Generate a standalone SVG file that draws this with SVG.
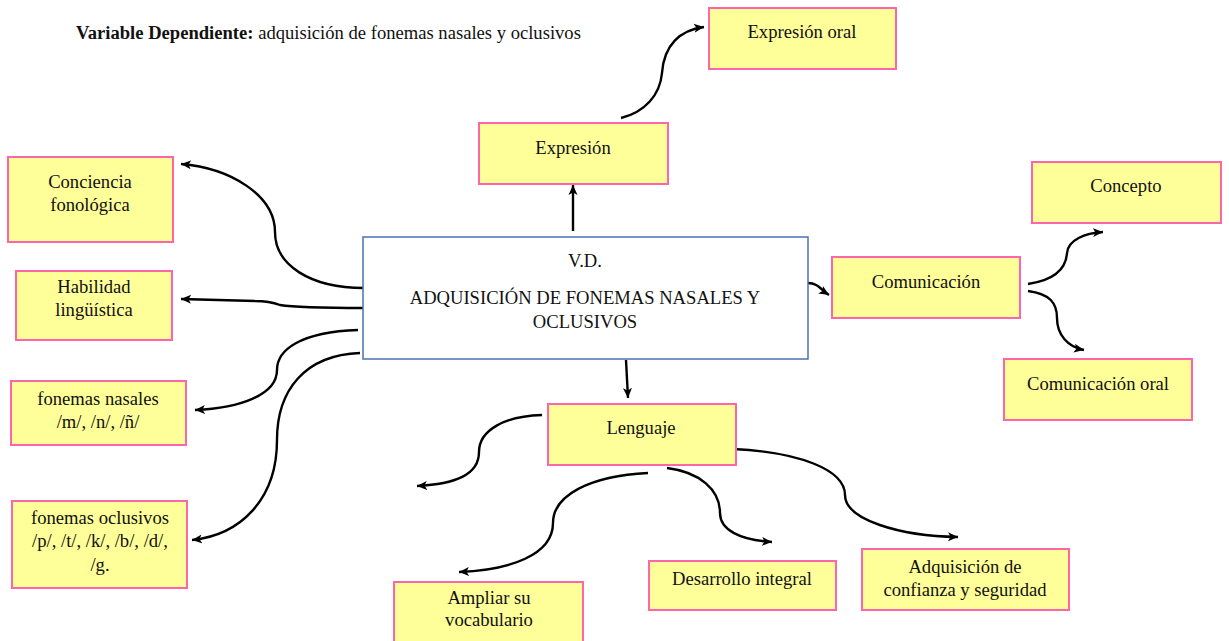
<svg xmlns="http://www.w3.org/2000/svg" width="1229" height="641" viewBox="0 0 1229 641">
<style>
text{font-family:"Liberation Serif","Times New Roman",serif;font-size:18.6px;fill:#111;text-anchor:middle}
.box{fill:#FFFF99;stroke:#FF66AA;stroke-width:2}
.main{fill:#fff;stroke:#4A72B8;stroke-width:1.5}
.c{fill:none;stroke:#000;stroke-width:2.4}
</style>
<defs>
<marker id="ah" markerUnits="userSpaceOnUse" markerWidth="12" markerHeight="10" refX="10" refY="5" orient="auto">
<path d="M0,0.5 L10,5 L0,9.5 L2.5,5 z" fill="#000"/>
</marker>
</defs>
<rect width="1229" height="641" fill="#fff"/>
<text x="76" y="39" style="text-anchor:start"><tspan font-weight="bold">Variable Dependiente:</tspan> adquisición de fonemas nasales y oclusivos</text>

<g id="connectors">
<path class="c" marker-end="url(#ah)" d="M621,118 C645,112 660,95 662,73 C664,45 680,30 704,27"/>
<path class="c" marker-end="url(#ah)" d="M573,231 L573,185"/>
<path class="c" marker-end="url(#ah)" d="M626,360 L628,398"/>
<path class="c" marker-end="url(#ah)" d="M808,283 C818,283 821,290 829,295"/>
<path class="c" marker-end="url(#ah)" d="M1028,284 C1055,280 1066,268 1067,253 C1068,240 1085,233 1103,232"/>
<path class="c" marker-end="url(#ah)" d="M1028,291 C1050,294 1057,303 1057,318 C1057,335 1068,347 1084,350"/>
<path class="c" marker-end="url(#ah)" d="M364,288 C310,288 275,265 275,232 C275,195 230,168 181,164"/>
<path class="c" marker-end="url(#ah)" d="M364,308 C320,308 292,307 280,305 C272,302 266,301 255,301 L181,299"/>
<path class="c" marker-end="url(#ah)" d="M358,330 C300,332 277,350 277,370 C277,395 240,408 195,410"/>
<path class="c" marker-end="url(#ah)" d="M360,353 C305,355 277,390 277,440 C277,500 240,535 192,540"/>
<path class="c" marker-end="url(#ah)" d="M542,415 C505,416 479,430 479,452 C479,475 455,484 417,486"/>
<path class="c" marker-end="url(#ah)" d="M648,473 C590,476 553,495 553,523 C553,555 510,570 459,572"/>
<path class="c" marker-end="url(#ah)" d="M667,468 C700,472 720,490 720,513 C720,530 740,540 772,542"/>
<path class="c" marker-end="url(#ah)" d="M733,449 C800,452 845,470 845,495 C845,520 900,536 958,537"/>
</g>

<g id="main"><rect class="main" x="363" y="237" width="445" height="122"/>
<text x="585" y="267">V.D.</text>
<text x="585" y="304">ADQUISICIÓN DE FONEMAS NASALES Y</text>
<text x="585" y="328">OCLUSIVOS</text></g>

<g id="expresion-oral"><rect class="box" x="709" y="8" width="187" height="61"/><text x="802" y="38">Expresión oral</text></g>
<g id="expresion"><rect class="box" x="479" y="123" width="189" height="61"/><text x="573" y="154">Expresión</text></g>
<g id="conciencia"><rect class="box" x="8" y="157" width="165" height="85"/><text x="90" y="188">Conciencia</text><text x="90" y="211">fonológica</text></g>
<g id="habilidad"><rect class="box" x="16" y="271" width="156" height="69"/><text x="94" y="293">Habilidad</text><text x="94" y="316">lingüística</text></g>
<g id="nasales"><rect class="box" x="11" y="381" width="175" height="64"/><text x="98" y="405">fonemas nasales</text><text x="98" y="428">/m/, /n/, /ñ/</text></g>
<g id="oclusivos"><rect class="box" x="12" y="501" width="175" height="87"/><text x="100" y="524">fonemas oclusivos</text><text x="100" y="547">/p/, /t/, /k/, /b/, /d/,</text><text x="100" y="571">/g.</text></g>
<g id="lenguaje"><rect class="box" x="548" y="404" width="188" height="61"/><text x="641" y="434">Lenguaje</text></g>
<g id="ampliar"><rect class="box" x="394" y="582" width="189" height="70"/><text x="489" y="604">Ampliar su</text><text x="489" y="626">vocabulario</text></g>
<g id="desarrollo"><rect class="box" x="649" y="561" width="187" height="49"/><text x="742" y="585">Desarrollo integral</text></g>
<g id="adquisicion"><rect class="box" x="862" y="549" width="207" height="61"/><text x="965" y="573">Adquisición de</text><text x="965" y="596">confianza y seguridad</text></g>
<g id="comunicacion"><rect class="box" x="832" y="257" width="188" height="61"/><text x="926" y="288">Comunicación</text></g>
<g id="concepto"><rect class="box" x="1032" y="162" width="189" height="61"/><text x="1126" y="192">Concepto</text></g>
<g id="comunicacion-oral"><rect class="box" x="1004" y="359" width="188" height="61"/><text x="1098" y="390">Comunicación oral</text></g>
</svg>
